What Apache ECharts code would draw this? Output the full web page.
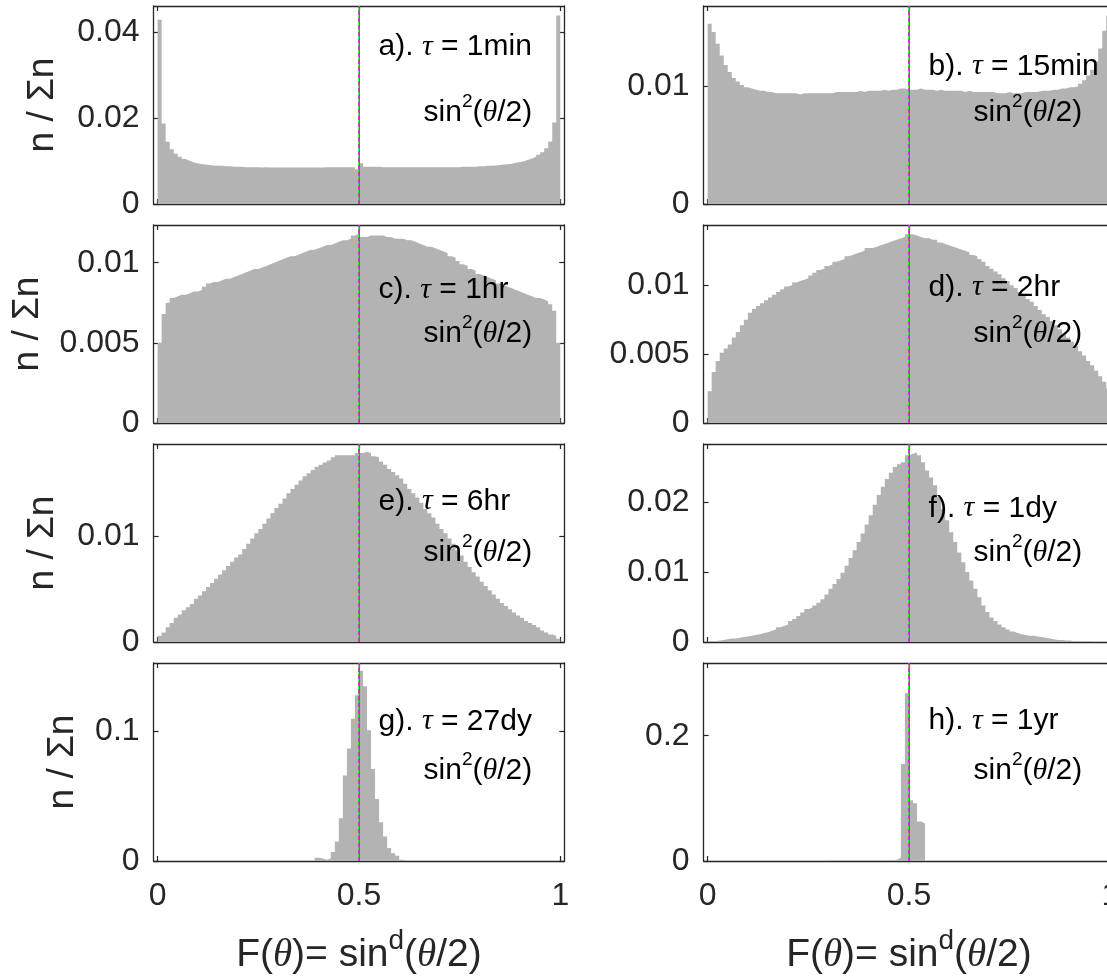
<!DOCTYPE html>
<html>
<head>
<meta charset="utf-8">
<script src="https://cdn.jsdelivr.net/npm/echarts@6/dist/echarts.min.js"></script>
<style>
html,body{margin:0;padding:0;background:#fff;}
#chart{width:1107px;height:977px;}
</style>
</head>
<body>
<div id="chart"></div>
<script>
// histogram data, bins of width 0.01 from 0 to 1 (n / sum n)
const binWidth = 0.01;
const panelTags = ['a', 'b', 'c', 'd', 'e', 'f', 'g', 'h'];
const tauText = ['1min', '15min', '1hr', '2hr', '6hr', '1dy', '27dy', '1yr'];
const yMax = [0.0462, 0.0168, 0.01235, 0.01437, 0.01876, 0.0283, 0.153, 0.316];
const yTicks = [[0, 0.02, 0.04], [0, 0.01], [0, 0.005, 0.01], [0, 0.005, 0.01], [0, 0.01], [0, 0.01, 0.02], [0, 0.1], [0, 0.2]];
const xTicks = [0, 0.5, 1];
const refX = [0.497, 0.5, 0.503]; // black, green, magenta dashed

const hist1min = [
  0.0430,0.0188,0.0145,0.0128,0.0117,0.0110,0.0105,0.0101,0.0097,0.0095,
  0.0093,0.0092,0.0091,0.0090,0.0089,0.0089,0.0088,0.0088,0.0087,0.0087,
  0.0087,0.0086,0.0086,0.0086,0.0086,0.0085,0.0086,0.0085,0.0085,0.0085,
  0.0085,0.0085,0.0085,0.0085,0.0085,0.0085,0.0085,0.0085,0.0085,0.0085,
  0.0085,0.0086,0.0086,0.0086,0.0086,0.0086,0.0086,0.0086,0.0086,0.0081,
  0.0095,0.0087,0.0087,0.0087,0.0087,0.0086,0.0086,0.0086,0.0086,0.0086,
  0.0086,0.0086,0.0086,0.0086,0.0086,0.0086,0.0086,0.0086,0.0086,0.0086,
  0.0086,0.0086,0.0086,0.0086,0.0086,0.0087,0.0087,0.0087,0.0087,0.0088,
  0.0088,0.0089,0.0089,0.0090,0.0091,0.0092,0.0093,0.0094,0.0096,0.0098,
  0.0100,0.0103,0.0106,0.0110,0.0115,0.0121,0.0130,0.0146,0.0190,0.0440
];
const hist15min = [
  0.0153,0.0146,0.0136,0.0126,0.0118,0.0112,0.0107,0.0104,0.0101,0.0099,
  0.0098,0.0097,0.0096,0.0096,0.0095,0.0095,0.0094,0.0094,0.0094,0.0094,
  0.0094,0.0094,0.0093,0.0094,0.0094,0.0094,0.0094,0.0094,0.0094,0.0094,
  0.0094,0.0095,0.0095,0.0095,0.0095,0.0095,0.0095,0.0096,0.0095,0.0096,
  0.0096,0.0096,0.0096,0.0097,0.0096,0.0097,0.0097,0.0098,0.0098,0.0097,
  0.0097,0.0097,0.0098,0.0097,0.0097,0.0097,0.0096,0.0097,0.0096,0.0096,
  0.0096,0.0096,0.0096,0.0095,0.0096,0.0095,0.0095,0.0095,0.0095,0.0095,
  0.0095,0.0094,0.0094,0.0094,0.0095,0.0094,0.0094,0.0094,0.0095,0.0095,
  0.0095,0.0095,0.0096,0.0096,0.0096,0.0097,0.0097,0.0098,0.0098,0.0099,
  0.0099,0.0100,0.0102,0.0105,0.0109,0.0114,0.0121,0.0132,0.0147,0.0160
];
const hist1hr = [
  0.0050,0.0068,0.0075,0.0078,0.0079,0.0080,0.0080,0.0081,0.0082,0.0082,
  0.0083,0.0085,0.0087,0.0088,0.0088,0.0089,0.0090,0.0090,0.0091,0.0092,
  0.0093,0.0094,0.0095,0.0096,0.0096,0.0097,0.0098,0.0099,0.0100,0.0101,
  0.0102,0.0103,0.0104,0.0104,0.0105,0.0106,0.0107,0.0108,0.0108,0.0109,
  0.0110,0.0111,0.0111,0.0112,0.0113,0.0114,0.0114,0.0115,0.0117,0.0118,
  0.0116,0.0116,0.0117,0.0117,0.0117,0.0117,0.0116,0.0116,0.0115,0.0115,
  0.0115,0.0114,0.0114,0.0113,0.0112,0.0111,0.0110,0.0110,0.0109,0.0108,
  0.0107,0.0106,0.0104,0.0103,0.0101,0.0099,0.0098,0.0096,0.0095,0.0093,
  0.0092,0.0091,0.0090,0.0089,0.0087,0.0086,0.0085,0.0084,0.0083,0.0082,
  0.0081,0.0080,0.0079,0.0078,0.0078,0.0077,0.0076,0.0074,0.0070,0.0050
];
const hist2hr = [
  0.0023,0.0037,0.0045,0.0051,0.0054,0.0057,0.0062,0.0066,0.0071,0.0075,
  0.0080,0.0083,0.0085,0.0087,0.0089,0.0091,0.0093,0.0095,0.0097,0.0099,
  0.0100,0.0102,0.0103,0.0104,0.0105,0.0107,0.0109,0.0111,0.0112,0.0114,
  0.0115,0.0117,0.0118,0.0119,0.0121,0.0122,0.0123,0.0124,0.0125,0.0127,
  0.0127,0.0128,0.0129,0.0130,0.0131,0.0132,0.0133,0.0134,0.0135,0.0137,
  0.0137,0.0136,0.0135,0.0134,0.0134,0.0133,0.0133,0.0131,0.0130,0.0129,
  0.0128,0.0127,0.0126,0.0125,0.0124,0.0122,0.0121,0.0119,0.0117,0.0114,
  0.0112,0.0110,0.0108,0.0105,0.0103,0.0100,0.0098,0.0095,0.0093,0.0090,
  0.0088,0.0085,0.0082,0.0079,0.0077,0.0074,0.0071,0.0068,0.0065,0.0062,
  0.0059,0.0056,0.0052,0.0049,0.0045,0.0042,0.0038,0.0034,0.0030,0.0025
];
const hist6hr = [
  0.0006,0.0009,0.0014,0.0018,0.0023,0.0026,0.0030,0.0033,0.0036,0.0041,
  0.0044,0.0048,0.0052,0.0056,0.0060,0.0064,0.0068,0.0072,0.0076,0.0080,
  0.0083,0.0088,0.0093,0.0098,0.0103,0.0107,0.0112,0.0117,0.0122,0.0127,
  0.0131,0.0136,0.0141,0.0145,0.0149,0.0153,0.0157,0.0160,0.0163,0.0166,
  0.0168,0.0170,0.0172,0.0175,0.0177,0.0177,0.0177,0.0177,0.0177,0.0179,
  0.0179,0.0180,0.0179,0.0176,0.0175,0.0171,0.0168,0.0164,0.0161,0.0158,
  0.0155,0.0150,0.0145,0.0141,0.0137,0.0132,0.0126,0.0122,0.0118,0.0112,
  0.0107,0.0103,0.0098,0.0093,0.0087,0.0082,0.0076,0.0071,0.0066,0.0062,
  0.0057,0.0053,0.0049,0.0045,0.0041,0.0037,0.0034,0.0031,0.0028,0.0025,
  0.0023,0.0020,0.0018,0.0016,0.0014,0.0011,0.0009,0.0007,0.0006,0.0003
];
const hist1dy = [
  0.0001,0.0001,0.0002,0.0003,0.0004,0.0005,0.0005,0.0006,0.0007,0.0008,
  0.0009,0.0010,0.0011,0.0013,0.0014,0.0016,0.0018,0.0021,0.0023,0.0025,
  0.0030,0.0033,0.0037,0.0042,0.0047,0.0049,0.0052,0.0056,0.0061,0.0068,
  0.0076,0.0083,0.0090,0.0099,0.0109,0.0120,0.0131,0.0143,0.0155,0.0168,
  0.0181,0.0196,0.0210,0.0222,0.0233,0.0242,0.0250,0.0254,0.0257,0.0267,
  0.0269,0.0271,0.0267,0.0257,0.0245,0.0235,0.0224,0.0207,0.0190,0.0174,
  0.0157,0.0143,0.0128,0.0114,0.0100,0.0088,0.0076,0.0064,0.0052,0.0043,
  0.0035,0.0030,0.0025,0.0021,0.0018,0.0015,0.0013,0.0011,0.0010,0.0009,
  0.0009,0.0008,0.0007,0.0006,0.0005,0.0004,0.0003,0.0003,0.0002,0.0002,
  0.0001,0.0001,0.0001,0.0001,0.0001,0,0,0,0,0
];
const hist27dy = [
  0,0,0,0,0,0,0,0,0,0,
  0,0,0,0,0,0,0,0,0,0,
  0,0,0,0,0,0,0,0,0,0,
  0,0,0,0,0,0,0,0,0,0.0026,
  0.0020,0.0010,0.0020,0.0070,0.0150,0.0330,0.0660,0.0870,0.1100,0.1280,
  0.1470,0.1350,0.1010,0.0710,0.0480,0.0300,0.0190,0.0100,0.0060,0.0040,
  0.0010,0,0,0,0,0,0,0,0,0,
  0,0,0,0,0,0,0,0,0,0,
  0,0,0,0,0,0,0,0,0,0,
  0,0,0,0,0,0,0,0,0,0
];
const hist1yr = [
  0,0,0,0,0,0,0,0,0,0,
  0,0,0,0,0,0,0,0,0,0,
  0,0,0,0,0,0,0,0,0,0.0008,
  0.0008,0.0008,0.0008,0.0008,0.0008,0.0008,0.0008,0.0008,0.0008,0.0008,
  0.0008,0.0008,0.0008,0.0009,0.0010,0.0012,0.0020,0.0050,0.1550,0.2680,
  0.0970,0.0920,0.0630,0.0600,0,0,0,0,0,0,
  0,0,0,0,0,0,0,0,0,0,
  0,0,0,0,0,0,0,0,0,0,
  0,0,0,0,0,0,0,0,0,0,
  0,0,0,0,0,0,0,0,0,0
];
const hists = [hist1min, hist15min, hist1hr, hist2hr, hist6hr, hist1dy, hist27dy, hist1yr];

// layout
const colLeft = [153.6, 703.6];
const plotW = 410.7;
const rowTop = [6, 225, 444, 663];
const plotH = 198;
const yNameGap = [92, 107, 92, 72];
const noteY1 = [0.19, 0.29, 0.314, 0.30, 0.275, 0.31, 0.28, 0.276];
const noteY2 = [0.525, 0.525, 0.535, 0.535, 0.535, 0.535, 0.53, 0.53];

const AX = '#262626';
const FONT = '"Liberation Sans", Arial, Helvetica, sans-serif';
const SERIF = '"Liberation Serif", "Times New Roman", serif';
const tickFmt = v => String(+v.toFixed(4));

const grids = [], xAxes = [], yAxes = [], series = [], titles = [];

hists.forEach((h, i) => {
    const col = i % 2, row = Math.floor(i / 2);
    const bottomRow = row === 3;
    grids.push({left: colLeft[col], top: rowTop[row], width: plotW, height: plotH, outerBoundsMode: 'none', containLabel: false});

    const axLine = {show: true, onZero: false, lineStyle: {color: AX, width: 1.3}};
    // bottom x axis
    xAxes.push({
        gridIndex: i, type: 'value', min: -0.01, max: 1.01, position: 'bottom',
        axisLine: axLine,
        axisTick: {show: true, inside: true, length: 5, customValues: xTicks, lineStyle: {color: AX, width: 1.2}},
        axisLabel: {show: bottomRow, customValues: xTicks, margin: 19, fontSize: 32, color: AX, fontFamily: FONT, formatter: tickFmt},
        splitLine: {show: false},
        name: bottomRow ? '{n|F(}{i|θ}{n|)= sin}{s|d}{n|(}{i|θ}{n|/2)}' : '',
        nameLocation: 'middle', nameGap: 66,
        nameTextStyle: {
            color: AX, fontFamily: FONT, fontSize: 39,
            rich: {
                n: {fontSize: 39, fontFamily: FONT, color: AX, lineHeight: 48, verticalAlign: 'bottom'},
                i: {fontSize: 39, fontFamily: SERIF, fontStyle: 'italic', color: AX, lineHeight: 48, verticalAlign: 'bottom'},
                s: {fontSize: 28, fontFamily: FONT, color: AX, verticalAlign: 'top', lineHeight: 48}
            }
        }
    });
    // top x axis (box + mirrored ticks)
    xAxes.push({
        gridIndex: i, type: 'value', min: -0.01, max: 1.01, position: 'top',
        axisLine: axLine,
        axisTick: {show: true, inside: true, length: 5, customValues: xTicks, lineStyle: {color: AX, width: 1.2}},
        axisLabel: {show: false},
        splitLine: {show: false}
    });
    // left y axis
    yAxes.push({
        gridIndex: i, type: 'value', min: 0, max: yMax[i], position: 'left',
        axisLine: axLine,
        axisTick: {show: true, inside: true, length: 5, customValues: yTicks[i], lineStyle: {color: AX, width: 1.2}},
        axisLabel: {show: true, customValues: yTicks[i], margin: 14, fontSize: 32, color: AX, fontFamily: FONT, formatter: tickFmt},
        splitLine: {show: false},
        name: col === 0 ? 'n / Σn' : '',
        nameLocation: 'middle', nameRotate: 90, nameGap: yNameGap[row],
        nameTextStyle: {color: AX, fontFamily: FONT, fontSize: 37}
    });
    // right y axis
    yAxes.push({
        gridIndex: i, type: 'value', min: 0, max: yMax[i], position: 'right',
        axisLine: axLine,
        axisTick: {show: true, inside: true, length: 5, customValues: yTicks[i], lineStyle: {color: AX, width: 1.2}},
        axisLabel: {show: false},
        splitLine: {show: false}
    });

    const pts = h.map((v, k) => [+(k * binWidth).toFixed(2), v]);
    pts.push([1, h[h.length - 1]]);
    series.push({
        type: 'line', xAxisIndex: 2 * i, yAxisIndex: 2 * i,
        data: pts, step: 'end', symbol: 'none', silent: true,
        lineStyle: {width: 0, opacity: 0},
        areaStyle: {color: '#b3b3b3', opacity: 1},
        markLine: {
            silent: true, symbol: 'none', label: {show: false},
            data: [
                {xAxis: refX[0], lineStyle: {color: '#000000', width: 1, type: 'solid'}},
                {xAxis: refX[1], lineStyle: {color: '#00ff00', width: 1.5, type: 'solid'}},
                {xAxis: refX[2], lineStyle: {color: '#ff00ff', width: 1.5, type: [4, 3]}}
            ]
        },
        z: 2
    });

    const rich = {
        t: {fontSize: 30, fontWeight: 'normal', fontFamily: FONT, color: '#000', lineHeight: 36, verticalAlign: 'bottom'},
        g: {fontSize: 30, fontWeight: 'normal', fontFamily: SERIF, fontStyle: 'italic', color: '#000', lineHeight: 36, verticalAlign: 'bottom'},
        s: {fontSize: 19, fontWeight: 'normal', fontFamily: FONT, color: '#000', lineHeight: 36, verticalAlign: 'top'}
    };
    titles.push({
        text: '{t|' + panelTags[i] + '). }{g|τ}{t| = ' + tauText[i] + '}',
        left: colLeft[col] + 225, top: rowTop[row] + noteY1[i] * plotH - 18,
        padding: 0, textStyle: {fontWeight: 'normal', rich: rich}
    });
    titles.push({
        text: '{t|sin}{s|2}{t|(}{g|θ}{t|/2)}',
        left: colLeft[col] + 270, top: rowTop[row] + noteY2[i] * plotH - 18,
        padding: 0, textStyle: {fontWeight: 'normal', rich: rich}
    });
});

const chart = echarts.init(document.getElementById('chart'), null, {renderer: 'canvas'});
chart.setOption({
    animation: false,
    backgroundColor: '#ffffff',
    title: titles,
    grid: grids,
    xAxis: xAxes,
    yAxis: yAxes,
    series: series
});
window.addEventListener('resize', () => chart.resize());
</script>
</body>
</html>
